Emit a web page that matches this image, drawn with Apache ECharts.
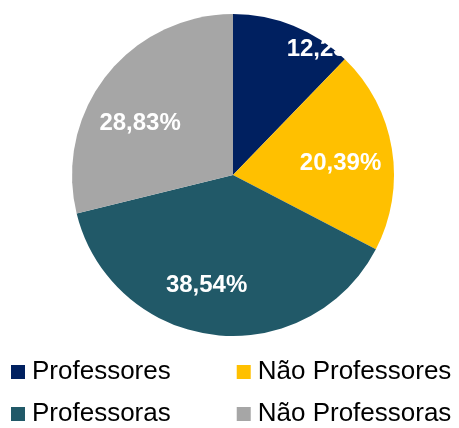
<!DOCTYPE html>
<html>
<head>
<meta charset="utf-8">
<script src="https://cdn.jsdelivr.net/npm/echarts@6/dist/echarts.min.js"></script>
<style>
  html, body { margin: 0; padding: 0; background: #fff; }
  #chart { width: 459px; height: 428px; }
</style>
</head>
<body>
<div id="chart"></div>
<script>
// slice data, clockwise from 12 o'clock
var categories = ['Professores', 'Não Professores', 'Professoras', 'Não Professoras'];
var values = [12.23, 20.39, 38.54, 28.83];
var colors = ['#002060', '#FFC000', '#215968', '#A6A6A6'];

// small nudges so labels sit where the original put them
var labelNudge = [[52, -21], [-4, 7], [-13, -2], [-4, 18]];

var chart = echarts.init(document.getElementById('chart'));

var sliceData = categories.map(function (name, i) {
    return { name: name, value: values[i], itemStyle: { color: colors[i] } };
});

// transparent copy, wider, only used to push the labels further out
var labelData = categories.map(function (name, i) {
    return { name: name, value: values[i], label: { offset: labelNudge[i] } };
});

var legendText = { fontFamily: 'Liberation Sans, Arial, sans-serif', fontSize: 26, color: '#000', padding: [0, 0, 0, 2] };

chart.setOption({
    animation: false,
    legend: [{
        data: [categories[0], categories[1]],
        left: 11, top: 359, padding: 0,
        itemWidth: 14, itemHeight: 14, itemGap: 66,
        icon: 'rect',
        textStyle: legendText
    }, {
        data: [categories[2], categories[3]],
        left: 11, top: 401, padding: 0,
        itemWidth: 14, itemHeight: 14, itemGap: 66,
        icon: 'rect',
        textStyle: legendText
    }],
    series: [{
        type: 'pie',
        center: [233, 175],
        radius: [0, 161],
        startAngle: 90,
        clockwise: true,
        silent: true,
        label: { show: false },
        labelLine: { show: false },
        data: sliceData
    }, {
        type: 'pie',
        center: [233, 175],
        radius: [0, 220],
        startAngle: 90,
        clockwise: true,
        silent: true,
        itemStyle: { color: 'transparent' },
        label: {
            show: true,
            position: 'inside',
            color: '#fff',
            fontFamily: 'Liberation Sans, Arial, sans-serif',
            fontWeight: 'bold',
            fontSize: 24,
            formatter: function (p) {
                return p.value.toFixed(2).replace('.', ',') + '%';
            }
        },
        labelLine: { show: false },
        data: labelData
    }]
});
</script>
</body>
</html>
